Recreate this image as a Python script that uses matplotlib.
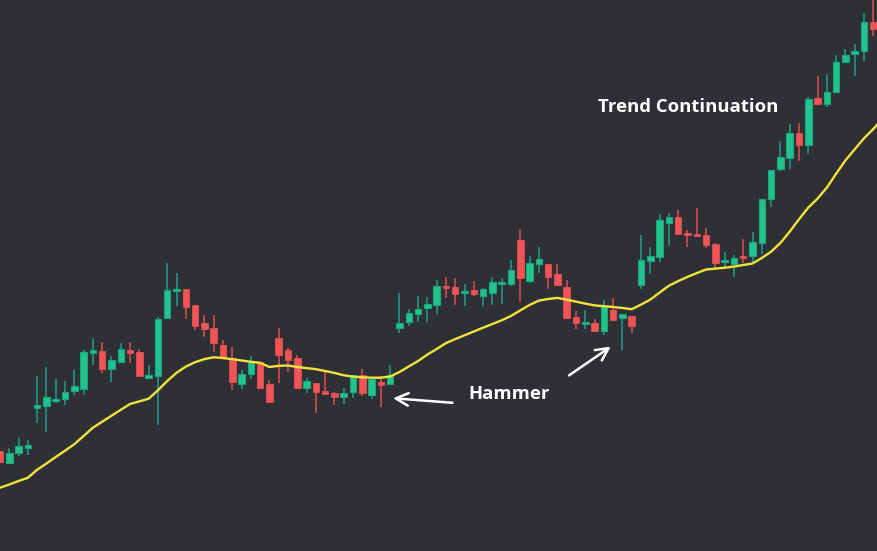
import matplotlib
matplotlib.use("Agg")
import matplotlib.pyplot as plt
import numpy as np

# Candle data (arbitrary price units)
opens = [100, 87.7, 98.3, 103.3, 143.3, 145.3, 150, 152.3, 160.3, 162.3,
         198.3, 200, 181.7, 189.3, 201, 198.7, 173.3, 175.3, 233.3, 260.3,
         262, 246, 228, 223, 206, 193.3, 166.7, 176.7, 188.7, 166.7,
         213, 201, 192.7, 163.3, 168, 160, 158, 154.3, 159.3, 175.7,
         156.3, 169, 167.3, 223.3, 229.3, 237.3, 243.3, 246.3, 265, 264,
         258.3, 261, 255.3, 258.3, 267.3, 267.3, 311, 270, 287.3, 287.3,
         277, 263.7, 233.7, 227.3, 228, 220.3, 241, 232.7, 234.7, 266.3,
         290.3, 294.3, 328.3, 333.7, 318, 317, 316, 307, 289.3, 287,
         295, 295.3, 308.3, 351.7, 382.3, 393.3, 417.7, 406.3, 453, 446.7,
         458.7, 488.7, 496.7, 499.7, 528.7]
closes = [89, 97.7, 105, 106, 146, 153.7, 152, 159, 165, 199,
          200.7, 182, 191, 201.7, 198.3, 175.3, 176, 232, 261, 261.3,
          244.3, 225, 222, 208.3, 193.3, 169.3, 177, 188.7, 163.3, 149.3,
          196.3, 191, 163.3, 170, 159.3, 157.3, 154.3, 158, 175.7, 158.3,
          171.7, 166.3, 175.7, 228, 237.7, 242, 247, 264.7, 263, 257.3,
          260, 257.3, 262, 268.7, 269, 281, 273.3, 287.7, 291.7, 274.3,
          266.3, 233.3, 228.3, 228, 220.3, 245, 231.3, 236.7, 225.3, 290.7,
          294.7, 330.7, 333.7, 317.3, 316.3, 315.3, 306.3, 288.3, 291, 292.7,
          293, 309, 351.7, 381, 393.7, 417.7, 406.3, 451.7, 447.3, 458.7,
          488.7, 495.7, 499.7, 528.7, 521.7]
highs = [100, 102.7, 113.3, 111, 175, 184.3, 172, 170, 181, 201,
         213.3, 209, 195, 208, 208.7, 202, 186, 234.3, 288.3, 278.3,
         262, 246, 236, 236, 211, 203.7, 181, 195, 188.7, 171,
         223, 203.3, 196, 173, 168, 179.3, 159, 162.7, 175.7, 182,
         173.7, 175, 186, 258, 242, 255.3, 254, 271, 274, 273,
         267, 270, 263, 274, 273, 291, 322, 295, 303.7, 287.3,
         287, 271, 240, 240.7, 232, 251, 253, 236.7, 234.7, 316,
         304, 337, 338, 341, 321, 343, 323, 308.3, 299.3, 296,
         312, 319, 351.7, 381, 410, 427, 427.7, 453.7, 475, 477,
         495.7, 501.7, 506.7, 537.7, 556]
lows = [88, 87.7, 95, 96, 128.3, 119.3, 148.3, 146.3, 156, 156,
        186, 178.3, 169.3, 188.3, 188.3, 175.3, 173.3, 126, 233.3, 245,
        232, 221, 214, 199.3, 193.3, 161, 162.3, 172.3, 162.3, 148.3,
        167.7, 179.3, 162.3, 158.3, 138.3, 156.3, 146.3, 147.3, 153.3, 155.3,
        152.3, 144.3, 167.3, 218.3, 225.3, 229.3, 229.3, 237, 253.3, 246.3,
        245, 255.3, 245.3, 246.3, 247.3, 265.3, 249.3, 268.3, 278.3, 262.3,
        266.3, 231.7, 222.3, 222.3, 220.3, 215.7, 231.3, 201.3, 218.3, 261.7,
        277.3, 289, 305.3, 317.3, 304.3, 313.7, 303.3, 283.3, 284.3, 274.3,
        288.3, 287.3, 297, 344.3, 380.3, 382.3, 390.3, 397.3, 447.3, 444.3,
        458.7, 487.7, 474.7, 490, 515]
# moving average read at each candle
ma = [63.3, 66.5, 70, 73.2, 81.3, 87.5, 94, 100.3, 106.8, 115,
      123.3, 129.3, 135.2, 141.2, 147, 149.6, 152.3, 160.7, 170, 178.2,
      184.4, 188.8, 191.9, 193.7, 193, 191.8, 190.5, 189.2, 188.2, 184,
      185.2, 185.5, 184, 182.9, 181.8, 180, 178.1, 175.7, 174.4, 173.7,
      173.3, 173.3, 174.5, 179, 184.5, 190, 196.4, 202, 207.9, 211.9,
      215.7, 219.5, 223.3, 227, 230.7, 235, 240.6, 246, 250.4, 252,
      253.1, 251.3, 249.4, 247.4, 245.6, 244.8, 244, 243, 241.8, 246.4,
      251.4, 258.4, 265.3, 269.9, 274.1, 277.9, 281.5, 282.4, 283.3, 284.4,
      286, 287.5, 293, 299.3, 308, 319.3, 331.7, 343.4, 352.4, 363.4,
      377.3, 390.6, 401.7, 412.7, 422]

BG = "#2f3035"
UP = "#22c38d"
UP_EDGE = "#1ba57a"
UP_WICK = "#1f9f8c"
DN = "#f05456"
DN_WICK = "#e24d50"

fig = plt.figure(figsize=(8.77, 5.51), dpi=100, facecolor=BG)
ax = fig.add_axes([0, 0, 1, 1])
ax.set_facecolor(BG)

idx = np.arange(len(opens))
o = np.array(opens); c = np.array(closes)
h = np.array(highs); l = np.array(lows)
up = c >= o

body_bottom = np.minimum(o, c)
body_h = np.maximum(np.abs(c - o), 2.0)
width = 0.7

ax.vlines(idx[up], l[up], h[up], color=UP_WICK, linewidth=1.1, zorder=2)
ax.vlines(idx[~up], l[~up], h[~up], color=DN_WICK, linewidth=1.1, zorder=2)
ax.bar(idx[up], body_h[up], width, bottom=body_bottom[up], color=UP,
       edgecolor=UP_EDGE, linewidth=0.8, zorder=3)
ax.bar(idx[~up], body_h[~up], width, bottom=body_bottom[~up], color=DN,
       edgecolor=DN, linewidth=0.5, zorder=3)

ax.plot(idx, ma, color="#f2e33c", linewidth=1.7, zorder=4, solid_capstyle="round")
ax.plot(list(idx[-1:]) + [94.45], [ma[-1], ma[-1] + 4.6], color="#f2e33c", linewidth=1.7, zorder=4)

ax.set_xlim(0, 94.4)
ax.set_ylim(0, 551)
ax.axis("off")

ax.text(64.4, 444, "Trend Continuation", color="white", fontsize=13.3,
        fontweight="bold", family="Open Sans", va="center", ha="left", zorder=5)
ax.text(50.4, 157, "Hammer", color="white", fontsize=13.3,
        fontweight="bold", family="Open Sans", va="center", ha="left", zorder=5)

ax.annotate("", xy=(42.0, 153), xytext=(49.0, 148),
            arrowprops=dict(arrowstyle="->,head_length=0.9,head_width=0.45",
                            color="white", lw=1.8), zorder=5)
ax.annotate("", xy=(66.0, 206), xytext=(61.0, 174),
            arrowprops=dict(arrowstyle="->,head_length=0.9,head_width=0.45",
                            color="white", lw=1.8), zorder=5)

fig.savefig("out.png", dpi=100, facecolor=BG)
